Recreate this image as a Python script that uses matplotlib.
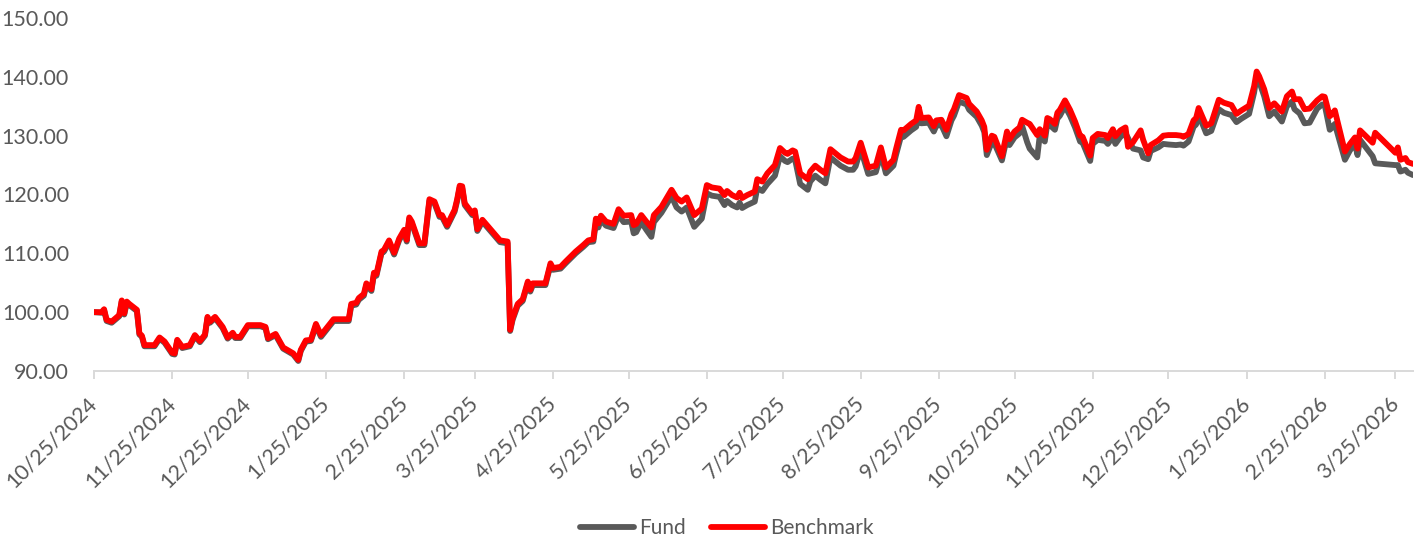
import matplotlib

matplotlib.use("Agg")
import matplotlib.pyplot as plt
import pandas as pd
from matplotlib.ticker import FormatStrFormatter

# values (index, start = 100)
dates = [
    "2024-10-25", "2024-10-28", "2024-10-29", "2024-10-30", "2024-11-01", "2024-11-04", "2024-11-05",
    "2024-11-06", "2024-11-07", "2024-11-08", "2024-11-11", "2024-11-12", "2024-11-13", "2024-11-14",
    "2024-11-18", "2024-11-20", "2024-11-22", "2024-11-25", "2024-11-26", "2024-11-27", "2024-11-29",
    "2024-12-02", "2024-12-04", "2024-12-06", "2024-12-08", "2024-12-09", "2024-12-10", "2024-12-12",
    "2024-12-15", "2024-12-17", "2024-12-19", "2024-12-20", "2024-12-22", "2024-12-25", "2024-12-30",
    "2025-01-01", "2025-01-02", "2025-01-05", "2025-01-08", "2025-01-12", "2025-01-14", "2025-01-15",
    "2025-01-17", "2025-01-19", "2025-01-21", "2025-01-23", "2025-01-28", "2025-02-03", "2025-02-04",
    "2025-02-06", "2025-02-07", "2025-02-09", "2025-02-10", "2025-02-12", "2025-02-13", "2025-02-14",
    "2025-02-16", "2025-02-17", "2025-02-19", "2025-02-21", "2025-02-23", "2025-02-25", "2025-02-26",
    "2025-02-27", "2025-02-28", "2025-03-03", "2025-03-05", "2025-03-07", "2025-03-09", "2025-03-11",
    "2025-03-12", "2025-03-14", "2025-03-17", "2025-03-18", "2025-03-19", "2025-03-20", "2025-03-21",
    "2025-03-24", "2025-03-25", "2025-03-26", "2025-03-28", "2025-04-04", "2025-04-07", "2025-04-08",
    "2025-04-09", "2025-04-11", "2025-04-13", "2025-04-15", "2025-04-16", "2025-04-17", "2025-04-22",
    "2025-04-24", "2025-04-25", "2025-04-28", "2025-04-30", "2025-05-04", "2025-05-07", "2025-05-09",
    "2025-05-11", "2025-05-12", "2025-05-13", "2025-05-14", "2025-05-16", "2025-05-19", "2025-05-21",
    "2025-05-23", "2025-05-26", "2025-05-27", "2025-05-28", "2025-05-30", "2025-06-01", "2025-06-03",
    "2025-06-04", "2025-06-07", "2025-06-11", "2025-06-13", "2025-06-15", "2025-06-17", "2025-06-20",
    "2025-06-23", "2025-06-25", "2025-06-27", "2025-06-30", "2025-07-02", "2025-07-03", "2025-07-05",
    "2025-07-07", "2025-07-08", "2025-07-09", "2025-07-11", "2025-07-14", "2025-07-15", "2025-07-17",
    "2025-07-19", "2025-07-22", "2025-07-24", "2025-07-26", "2025-07-27", "2025-07-29", "2025-07-30",
    "2025-08-01", "2025-08-04", "2025-08-05", "2025-08-07", "2025-08-09", "2025-08-11", "2025-08-13",
    "2025-08-17", "2025-08-20", "2025-08-22", "2025-08-23", "2025-08-25", "2025-08-28", "2025-08-31",
    "2025-09-02", "2025-09-04", "2025-09-07", "2025-09-08", "2025-09-10", "2025-09-11", "2025-09-14",
    "2025-09-16", "2025-09-17", "2025-09-18", "2025-09-21", "2025-09-23", "2025-09-24", "2025-09-26",
    "2025-09-28", "2025-09-30", "2025-10-01", "2025-10-03", "2025-10-06", "2025-10-07", "2025-10-10",
    "2025-10-12", "2025-10-13", "2025-10-14", "2025-10-16", "2025-10-17", "2025-10-20", "2025-10-22",
    "2025-10-23", "2025-10-25", "2025-10-27", "2025-10-28", "2025-10-30", "2025-10-31", "2025-11-03",
    "2025-11-04", "2025-11-06", "2025-11-07", "2025-11-08", "2025-11-10", "2025-11-11", "2025-11-12",
    "2025-11-14", "2025-11-16", "2025-11-18", "2025-11-20", "2025-11-21", "2025-11-24", "2025-11-25",
    "2025-11-27", "2025-11-30", "2025-12-01", "2025-12-03", "2025-12-04", "2025-12-06", "2025-12-08",
    "2025-12-09", "2025-12-11", "2025-12-14", "2025-12-15", "2025-12-17", "2025-12-18", "2025-12-21",
    "2025-12-23", "2025-12-25", "2025-12-28", "2025-12-30", "2025-12-31", "2026-01-02", "2026-01-04",
    "2026-01-05", "2026-01-06", "2026-01-09", "2026-01-11", "2026-01-14", "2026-01-16", "2026-01-19",
    "2026-01-21", "2026-01-23", "2026-01-26", "2026-01-28", "2026-01-29", "2026-01-30", "2026-02-01",
    "2026-02-03", "2026-02-05", "2026-02-08", "2026-02-10", "2026-02-12", "2026-02-13", "2026-02-15",
    "2026-02-17", "2026-02-19", "2026-02-22", "2026-02-24", "2026-02-25", "2026-02-27", "2026-02-28",
    "2026-03-01", "2026-03-05", "2026-03-07", "2026-03-09", "2026-03-10", "2026-03-11", "2026-03-16",
    "2026-03-17", "2026-03-25", "2026-03-26", "2026-03-27", "2026-03-29", "2026-03-30", "2026-04-01",
]

benchmark = [
    100.0, 100.0, 100.5, 98.7, 98.4, 99.5, 102.0,
    99.8, 101.8, 101.4, 100.4, 96.4, 96.0, 94.4,
    94.4, 95.7, 95.0, 93.1, 93.0, 95.3, 94.1,
    94.4, 96.1, 95.1, 96.2, 99.2, 98.4, 99.2,
    97.5, 95.7, 96.5, 95.8, 95.8, 97.8, 97.8,
    97.5, 95.6, 96.3, 94.0, 93.0, 91.9, 93.6,
    95.2, 95.3, 98.0, 96.1, 98.8, 98.8, 101.4,
    101.6, 102.4, 103.1, 104.9, 103.9, 106.7, 106.5,
    110.3, 110.6, 112.2, 110.1, 112.5, 114.0, 112.3,
    116.1, 115.4, 111.7, 111.7, 119.2, 118.8, 116.5,
    116.5, 114.8, 117.4, 119.2, 121.5, 121.4, 118.5,
    116.8, 117.3, 114.1, 115.7, 112.2, 112.0, 97.0,
    99.0, 101.4, 102.2, 105.2, 103.8, 104.9, 104.9,
    108.3, 107.5, 107.7, 108.6, 110.3, 111.4, 112.2,
    112.4, 115.9, 115.1, 116.4, 115.4, 115.0, 117.5,
    116.4, 116.5, 114.8, 115.0, 116.5, 115.4, 114.4,
    116.5, 117.9, 120.8, 119.4, 118.8, 119.5, 116.5,
    117.6, 121.6, 121.2, 121.0, 119.9, 120.6, 119.9,
    119.5, 120.3, 119.4, 119.9, 120.5, 122.6, 122.2,
    123.6, 125.0, 127.9, 127.1, 126.9, 127.5, 127.3,
    123.6, 122.6, 123.9, 124.9, 124.2, 123.6, 127.7,
    126.3, 125.6, 125.6, 126.2, 128.8, 124.6, 124.9,
    128.0, 124.6, 125.9, 127.7, 131.0, 130.9, 132.0,
    132.6, 134.9, 133.0, 133.1, 131.6, 132.6, 132.7,
    131.0, 133.7, 134.5, 136.9, 136.4, 135.4, 134.1,
    132.6, 131.5, 127.6, 130.0, 129.8, 126.5, 130.7,
    129.4, 130.7, 131.4, 132.7, 132.2, 132.0, 130.1,
    131.1, 130.0, 133.0, 132.8, 132.0, 133.9, 134.4,
    136.0, 134.4, 132.4, 130.0, 129.8, 126.6, 129.6,
    130.3, 130.1, 129.6, 131.1, 129.9, 130.9, 131.4,
    128.1, 128.9, 130.9, 129.3, 127.0, 128.4, 129.2,
    130.0, 130.1, 130.1, 130.0, 129.8, 130.3, 132.6,
    133.0, 134.7, 131.7, 132.1, 136.1, 135.6, 135.2,
    133.7, 134.3, 135.1, 138.4, 140.9, 140.1, 137.9,
    134.7, 135.5, 134.1, 136.7, 137.5, 136.2, 136.2,
    134.5, 134.6, 136.0, 136.7, 136.6, 133.3, 133.7,
    134.3, 127.3, 128.6, 129.7, 127.8, 130.9, 128.8,
    130.5, 127.1, 128.0, 125.9, 126.2, 125.5, 125.2,
]

fund = [
    100.0, 99.9, 100.3, 98.5, 98.2, 99.3, 101.8,
    99.6, 101.6, 101.2, 100.2, 96.2, 95.8, 94.2,
    94.2, 95.5, 94.8, 92.9, 92.8, 95.1, 93.9,
    94.2, 95.9, 94.9, 96.0, 99.0, 98.2, 99.0,
    97.3, 95.5, 96.3, 95.6, 95.6, 97.6, 97.6,
    97.3, 95.4, 96.1, 93.8, 92.8, 91.7, 93.4,
    95.0, 95.1, 97.7, 95.8, 98.5, 98.5, 101.1,
    101.3, 102.1, 102.8, 104.6, 103.6, 106.4, 106.2,
    110.0, 110.3, 111.9, 109.8, 112.2, 113.7, 112.0,
    115.8, 115.1, 111.4, 111.4, 118.9, 118.5, 116.2,
    116.2, 114.5, 117.1, 118.9, 121.2, 121.1, 118.2,
    116.5, 117.0, 113.8, 115.4, 111.9, 111.7, 96.8,
    98.7, 101.1, 101.9, 104.9, 103.5, 104.6, 104.6,
    108.0, 107.2, 107.4, 108.3, 110.0, 111.1, 111.9,
    112.0, 115.2, 114.4, 115.7, 114.7, 114.3, 116.5,
    115.3, 115.4, 113.4, 113.6, 115.3, 114.0, 112.8,
    115.3, 116.9, 119.7, 117.8, 117.1, 117.8, 114.5,
    115.9, 120.2, 119.8, 119.6, 118.2, 118.9, 118.2,
    117.8, 118.6, 117.7, 118.2, 118.8, 121.1, 120.6,
    121.8, 123.2, 126.5, 125.7, 125.5, 126.1, 125.9,
    121.8, 120.8, 122.2, 123.2, 122.5, 121.9, 126.3,
    124.9, 124.2, 124.2, 124.8, 127.7, 123.5, 123.8,
    126.9, 123.6, 124.9, 126.7, 129.9, 129.8, 130.9,
    131.5, 133.9, 132.1, 132.2, 130.7, 131.7, 131.8,
    129.9, 132.6, 133.4, 135.8, 135.3, 134.4, 133.2,
    131.7, 130.6, 126.7, 128.9, 128.7, 125.8, 129.7,
    128.4, 129.7, 130.4, 131.7, 128.9, 127.8, 126.3,
    130.0, 129.0, 132.0, 131.8, 131.0, 132.9, 133.4,
    135.0, 133.4, 131.4, 129.0, 128.8, 125.7, 128.6,
    129.3, 129.1, 128.6, 129.8, 128.6, 129.8, 130.4,
    129.6, 127.8, 127.5, 126.3, 126.0, 127.4, 128.0,
    128.6, 128.5, 128.4, 128.5, 128.3, 129.0, 131.5,
    131.9, 133.6, 130.4, 130.8, 134.5, 133.9, 133.5,
    132.3, 132.9, 133.7, 137.3, 140.0, 139.2, 136.7,
    133.3, 134.1, 132.4, 135.0, 135.8, 134.5, 133.8,
    132.1, 132.2, 134.6, 135.3, 135.2, 131.0, 131.4,
    132.0, 125.9, 127.5, 128.6, 126.7, 129.3, 126.5,
    125.3, 125.0, 125.0, 123.9, 124.2, 123.7, 123.3,
]

tick_dates = pd.date_range("2024-10-25", "2026-03-25", freq=pd.DateOffset(months=1))
tick_labels = [f"{d.month}/{d.day}/{d.year}" for d in tick_dates]
y_ticks = [90, 100, 110, 120, 130, 140, 150]

FUND_COLOR = "#595959"
BENCH_COLOR = "#FF0000"
TEXT_COLOR = "#595959"
AXIS_COLOR = "#D9D9D9"

plt.rcParams["font.family"] = ["Lato", "DejaVu Sans"]

W, H = 1422, 542
fig = plt.figure(figsize=(W / 100, H / 100), dpi=100)
ax = fig.add_axes([94 / W, 1 - 371 / H, (1413 - 94) / W, (371 - 18) / H])

x = pd.to_datetime(dates)
line_kw = dict(lw=4.2, solid_joinstyle="round", solid_capstyle="round")
ax.plot(x, fund, color=FUND_COLOR, label="Fund", **line_kw)
ax.plot(x, benchmark, color=BENCH_COLOR, label="Benchmark", **line_kw)

ax.set_ylim(90, 150)
ax.set_yticks(y_ticks)
ax.yaxis.set_major_formatter(FormatStrFormatter("%.2f"))
ax.set_xlim(x[0], x[-1])
ax.set_xticks(tick_dates)
ax.set_xticklabels(tick_labels, rotation=45, ha="right", va="center", rotation_mode="anchor")

for side in ("top", "right", "left"):
    ax.spines[side].set_visible(False)
ax.spines["bottom"].set_color(AXIS_COLOR)
ax.spines["bottom"].set_linewidth(1.4)

ax.tick_params(axis="y", length=0, pad=18, labelsize=15.5, labelcolor=TEXT_COLOR)
ax.tick_params(axis="x", length=6, width=1.4, color=AXIS_COLOR, pad=15, labelsize=15.5, labelcolor=TEXT_COLOR)

fig.legend(
    loc="center",
    bbox_to_anchor=(0.511, 0.026),
    ncol=2,
    frameon=False,
    fontsize=15,
    labelcolor=TEXT_COLOR,
    handlelength=2.6,
    handletextpad=0.25,
    columnspacing=1.2,
)

fig.savefig("out.png", dpi=100)
plt.close(fig)
